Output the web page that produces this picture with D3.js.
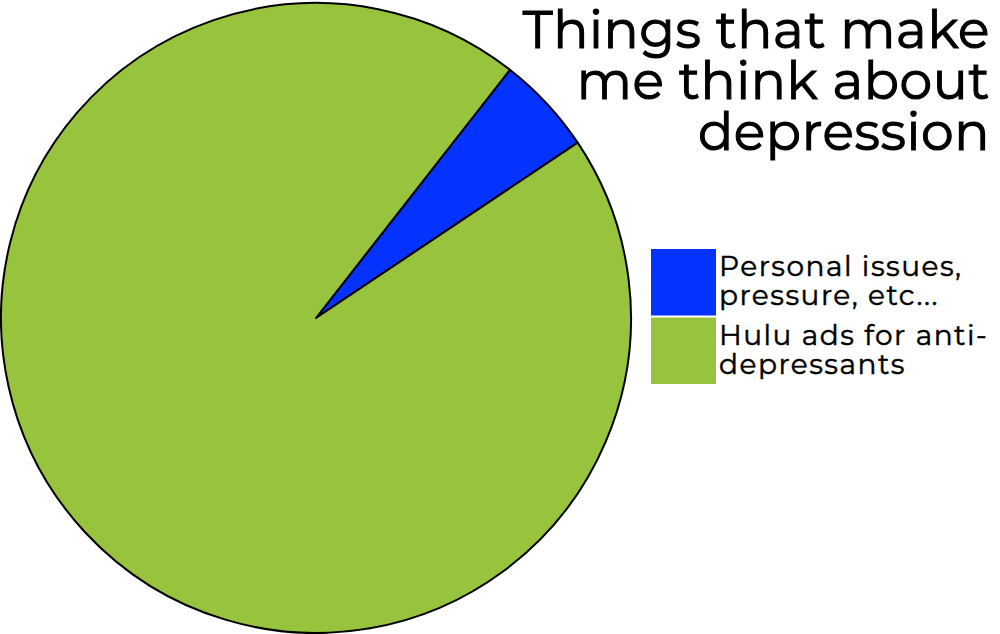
<!DOCTYPE html>
<html><head><meta charset="utf-8">
<script src="https://cdn.jsdelivr.net/npm/d3@7"></script>
<style>body{margin:0;background:#fff;} svg{display:block;}</style>
</head><body>
<svg id="chart" width="1000" height="634"></svg>
<script>
const categories = ["Personal issues, pressure, etc...", "Hulu ads for anti-depressants"];
const legendLines = [["Personal issues,", "pressure, etc..."], ["Hulu ads for anti-", "depressants"]];
const values = [5.05, 94.95];
const colors = ["#0433ff", "#97c43c"];
const titleLines = ["Things that make", "me think about", "depression"];

const svg = d3.select("#chart");
const cx = 316, cy = 318, r = 315;
const startDeg = 38;
const pie = d3.pie().sort(null).value(d => d.v)
  .startAngle(startDeg * Math.PI / 180).endAngle(startDeg * Math.PI / 180 + 2 * Math.PI);
const arc = d3.arc().innerRadius(0).outerRadius(r);
const data = categories.map((c, i) => ({c, v: values[i], col: colors[i]}));
const g = svg.append("g").attr("transform", `translate(${cx},${cy})`);
g.selectAll("path").data(pie(data)).join("path")
  .attr("d", arc).attr("fill", d => d.data.col)
  .attr("stroke", "#000").attr("stroke-width", 2).attr("stroke-linejoin", "round");

const font = "Montserrat, 'Open Sans', sans-serif";
const title = svg.append("text").attr("text-anchor", "end")
  .attr("font-family", font).attr("font-size", 52).attr("font-weight", 400)
  .attr("letter-spacing", 0.6)
  .attr("fill", "#000").attr("stroke", "#000").attr("stroke-width", 1.1);
titleLines.forEach((t, i) => title.append("tspan").attr("x", 990).attr("y", 48 + i * 51).text(t));

const lg = svg.append("g");
const ly = d3.scaleBand().domain(categories).range([249, 384]).paddingInner(0.03);
lg.selectAll("rect").data(data).join("rect")
  .attr("x", 651).attr("y", d => ly(d.c)).attr("width", 65).attr("height", ly.bandwidth())
  .attr("fill", d => d.col);
data.forEach((d, i) => {
  const t = lg.append("text").attr("font-family", font).attr("font-size", 28).attr("font-weight", 400)
    .attr("letter-spacing", 1.5).attr("fill", "#000").attr("stroke", "#000").attr("stroke-width", 0.5);
  legendLines[i].forEach((line, j) => t.append("tspan").attr("x", 719).attr("y", ly(d.c) + 27 + j * 29).text(line));
});
</script>
</body></html>
